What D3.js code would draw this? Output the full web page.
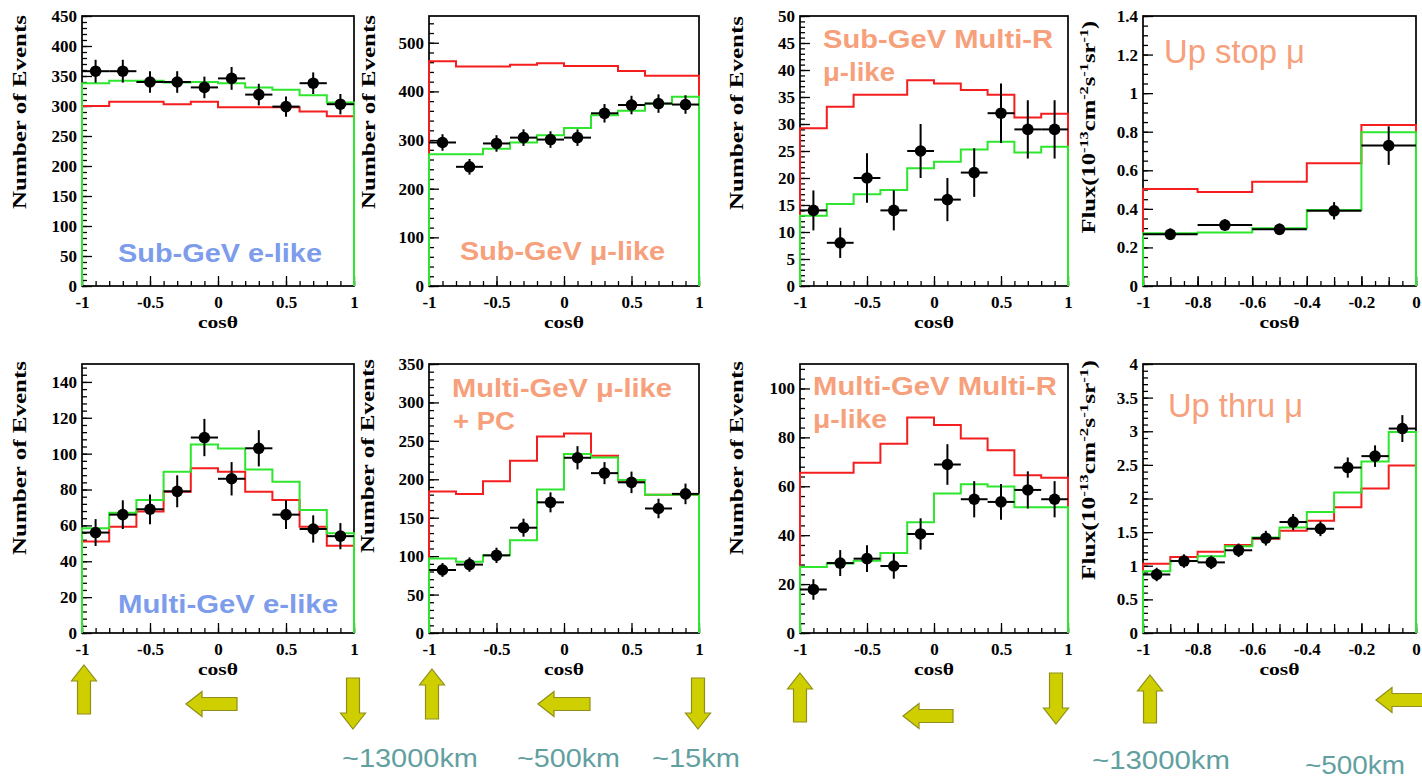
<!DOCTYPE html>
<html><head><meta charset="utf-8">
<script src="https://cdn.jsdelivr.net/npm/d3@7"></script>
<style>body{margin:0;background:#fff} svg{display:block}</style>
</head><body><svg id="c" width="1422" height="780"></svg>
<script>
// ---------- DATA ----------
const binsFull   = [-1,-0.8,-0.6,-0.4,-0.2,0,0.2,0.4,0.6,0.8,1];
const binsUpStop = [-1,-0.8,-0.6,-0.4,-0.2,0];
const binsUpThru = [-1,-0.9,-0.8,-0.7,-0.6,-0.5,-0.4,-0.3,-0.2,-0.1,0];

const xTicksFull = [-1,-0.5,0,0.5,1];
const xTicksHalf = [-1,-0.8,-0.6,-0.4,-0.2,0];

// Sub-GeV e-like
const subGeVeData = [358,358,340,340,331,346,319,299,338,303];
const subGeVeErr  = [19,19,18,18,18,19,18,17,18,17];
const subGeVeOsc  = [338,342,342,339,340,338,331,327,318,306];
const subGeVeNull = [300,307,307,303,307,298,298,298,291,283];
const yTicksSubGeVe = [0,50,100,150,200,250,300,350,400,450];

// Sub-GeV mu-like
const subGeVmuData = [295,245,293,305,301,305,355,372,375,373];
const subGeVmuErr  = [17,16,17,17,17,17,19,19,19,19];
const subGeVmuOsc  = [271,271,282,295,310,325,351,360,375,389];
const subGeVmuNull = [462,451,451,455,458,452,452,442,432,432];
const yTicksSubGeVmu = [0,100,200,300,400,500];

// Sub-GeV Multi-Ring mu-like
const subMRData = [14,8,20,14,25,16,21,32,29,29];
const subMRErr  = [3.7,2.8,4.6,3.7,5,4,4.5,5.5,5.4,5.4];
const subMROsc  = [13,15.2,17,17.8,21.8,23,25.3,26.7,24.7,25.8];
const subMRNull = [29.2,33.2,35.4,35.4,38.1,37.5,36.3,35.4,31.2,31.9];
const yTicksSubMR = [0,5,10,15,20,25,30,35,40,45,50];

// Upward stopping mu
const upStopData = [0.268,0.316,0.294,0.39,0.728];
const upStopErr  = [0.03,0.03,0.03,0.045,0.1];
const upStopOsc  = [0.273,0.278,0.299,0.394,0.797];
const upStopNull = [0.503,0.487,0.541,0.636,0.835];
const yTicksUpStop = [0,0.2,0.4,0.6,0.8,1,1.2,1.4];

// Multi-GeV e-like
const mulGeVeData = [56,66,69,79,109,86,103,66,58,54];
const mulGeVeErr  = [7.5,8,8.3,8.9,10.4,9.3,10.1,8,7.6,7.3];
const mulGeVeOsc  = [58.4,67.1,74.2,89.9,105.1,102.9,91.2,84.4,68.6,55.6];
const mulGeVeNull = [51,59.3,67.7,78.8,91.8,89.9,78.8,74.2,59.3,48.6];
const yTicksMulGeVe = [0,20,40,60,80,100,120,140];

// Multi-GeV mu-like + PC
const mulGeVmuData = [82,89,101,137,170,228,208,196,162,181];
const mulGeVmuErr  = [9,9.4,10,11.7,13,15.1,14.4,14,12.7,13.4];
const mulGeVmuOsc  = [97,92.7,101.3,120.7,186.6,232.8,228.4,199,180,180];
const mulGeVmuNull = [184,181,197.4,224,255.6,259.5,230.6,198,180,180];
const yTicksMulGeVmu = [0,50,100,150,200,250,300,350];

// Multi-GeV Multi-Ring mu-like
const mulMRData = [17.8,28.6,30.4,27.4,40.5,68.9,54.7,53.6,58.5,54.7];
const mulMRErr  = [4.2,5.3,5.5,5.2,6.4,8.3,7.4,7.3,7.6,7.4];
const mulMROsc  = [27,28.4,29.5,32.7,45.3,57,60.8,59.9,51.4,51.4];
const mulMRNull = [65.5,65.5,69.6,77.4,88.1,85.1,79.5,74.7,64.5,63.5];
const yTicksMulMR = [0,20,40,60,80,100];

// Upward through-going mu
const upThruData = [0.87,1.07,1.05,1.23,1.41,1.65,1.55,2.46,2.63,3.04];
const upThruErr  = [0.1,0.1,0.1,0.1,0.11,0.12,0.11,0.15,0.16,0.2];
const upThruOsc  = [0.92,1.07,1.14,1.29,1.42,1.57,1.80,2.09,2.55,2.99];
const upThruNull = [1.03,1.13,1.21,1.31,1.40,1.52,1.67,1.87,2.15,2.49];
const yTicksUpThru = [0,0.5,1,1.5,2,2.5,3,3.5,4];

// ---------- LAYOUT ----------
const panels = [
 {x0:82, x1:354, y0:16, y1:286, xDom:[-1,1], yMax:450, bins:binsFull, data:subGeVeData, err:subGeVeErr, osc:subGeVeOsc, nul:subGeVeNull, xt:xTicksFull, xMinor:0.1, xMid:null, yt:yTicksSubGeVe, yMinor:10, yl:'ev', ylx:26, ylc:112},
 {x0:429, x1:699, y0:16, y1:286, xDom:[-1,1], yMax:555, bins:binsFull, data:subGeVmuData, err:subGeVmuErr, osc:subGeVmuOsc, nul:subGeVmuNull, xt:xTicksFull, xMinor:0.1, xMid:null, yt:yTicksSubGeVmu, yMinor:20, yl:'ev', ylx:375, ylc:112},
 {x0:800, x1:1068, y0:16, y1:286, xDom:[-1,1], yMax:50, bins:binsFull, data:subMRData, err:subMRErr, osc:subMROsc, nul:subMRNull, xt:xTicksFull, xMinor:0.1, xMid:null, yt:yTicksSubMR, yMinor:1, yl:'ev', ylx:743, ylc:113},
 {x0:1143, x1:1416, y0:16, y1:286, xDom:[-1,0], yMax:1.4, bins:binsUpStop, data:upStopData, err:upStopErr, osc:upStopOsc, nul:upStopNull, xt:xTicksHalf, xMinor:0.05, xMid:0.1, yt:yTicksUpStop, yMinor:0.05, yl:'flux', ylx:1095, ylc:127},
 {x0:82, x1:354, y0:364, y1:633, xDom:[-1,1], yMax:150, bins:binsFull, data:mulGeVeData, err:mulGeVeErr, osc:mulGeVeOsc, nul:mulGeVeNull, xt:xTicksFull, xMinor:0.1, xMid:null, yt:yTicksMulGeVe, yMinor:4, yl:'ev', ylx:26, ylc:458},
 {x0:429, x1:699, y0:364, y1:633, xDom:[-1,1], yMax:350, bins:binsFull, data:mulGeVmuData, err:mulGeVmuErr, osc:mulGeVmuOsc, nul:mulGeVmuNull, xt:xTicksFull, xMinor:0.1, xMid:null, yt:yTicksMulGeVmu, yMinor:10, yl:'ev', ylx:374, ylc:456},
 {x0:800, x1:1068, y0:364, y1:633, xDom:[-1,1], yMax:110, bins:binsFull, data:mulMRData, err:mulMRErr, osc:mulMROsc, nul:mulMRNull, xt:xTicksFull, xMinor:0.1, xMid:null, yt:yTicksMulMR, yMinor:4, yl:'ev', ylx:743, ylc:458},
 {x0:1143, x1:1416, y0:364, y1:633, xDom:[-1,0], yMax:4, bins:binsUpThru, data:upThruData, err:upThruErr, osc:upThruOsc, nul:upThruNull, xt:xTicksHalf, xMinor:0.05, xMid:0.1, yt:yTicksUpThru, yMinor:0.1, yl:'flux', ylx:1095, ylc:470}
];

const SERIF = "'Liberation Serif','Times New Roman',serif";
const SANS  = "'Liberation Sans',Arial,sans-serif";
const RED = '#f51e1e', GREEN = '#2de62d';
const fmt = d => String(d);

const svg = d3.select('#c');
svg.append('rect').attr('width',1422).attr('height',780).attr('fill','#fff');

function stepRange(lo, hi, step){
  const n = Math.floor((hi-lo)/step + 1e-6);
  return d3.range(n+1).map(i => +(lo + i*step).toFixed(6));
}
function styleAxis(s, size){
  s.select('.domain').remove();
  s.selectAll('line').attr('stroke','#000').attr('stroke-width',1.3);
  s.selectAll('text').attr('font-family',SERIF).attr('font-weight','bold').attr('font-size',size).attr('fill','#000');
}

panels.forEach(p => {
  const x = d3.scaleLinear().domain(p.xDom).range([p.x0,p.x1]);
  const y = d3.scaleLinear().domain([0,p.yMax]).range([p.y1,p.y0]);
  const g = svg.append('g');

  g.append('rect').attr('x',p.x0).attr('y',p.y0).attr('width',p.x1-p.x0).attr('height',p.y1-p.y0)
   .attr('fill','none').attr('stroke','#000').attr('stroke-width',1.7);

  // y ticks (inward)
  g.append('g').attr('transform',`translate(${p.x0},0)`)
   .call(d3.axisLeft(y).tickValues(stepRange(0,p.yMax,p.yMinor)).tickSize(-5).tickFormat(''))
   .call(s=>styleAxis(s,16));
  g.append('g').attr('transform',`translate(${p.x0},0)`)
   .call(d3.axisLeft(y).tickValues(p.yt).tickSizeInner(-10).tickSizeOuter(0).tickPadding(5).tickFormat(fmt))
   .call(s=>styleAxis(s,17));

  // x ticks (inward)
  g.append('g').attr('transform',`translate(0,${p.y1})`)
   .call(d3.axisBottom(x).tickValues(stepRange(p.xDom[0],p.xDom[1],p.xMinor)).tickSize(-5).tickFormat(''))
   .call(s=>styleAxis(s,16));
  if (p.xMid) g.append('g').attr('transform',`translate(0,${p.y1})`)
   .call(d3.axisBottom(x).tickValues(stepRange(p.xDom[0],p.xDom[1],p.xMid)).tickSize(-9).tickFormat(''))
   .call(s=>styleAxis(s,16));
  g.append('g').attr('transform',`translate(0,${p.y1})`)
   .call(d3.axisBottom(x).tickValues(p.xt).tickSizeInner(-10).tickSizeOuter(0).tickPadding(10).tickFormat(fmt))
   .call(s=>styleAxis(s,17));

  // x title
  g.append('text').attr('x',(p.x0+p.x1)/2).attr('y',p.y1+42).attr('text-anchor','middle')
   .attr('font-family',SERIF).attr('font-weight','bold').attr('font-size',16)
   .attr('textLength',40).attr('lengthAdjust','spacingAndGlyphs').text('cosθ');

  // y title
  const yt = g.append('g').attr('transform',`translate(${p.ylx},${p.ylc}) rotate(-90)`);
  if (p.yl === 'ev') {
    yt.append('text').attr('text-anchor','middle').attr('font-family',SERIF).attr('font-weight','bold')
      .attr('font-size',18).attr('textLength',194).attr('lengthAdjust','spacingAndGlyphs').text('Number of Events');
  } else {
    const t = yt.append('text').attr('font-family',SERIF).attr('font-weight','bold').attr('font-size',18);
    const parts = [['Flux(10',0],['-13',1],['cm',0],['-2',1],['s',0],['-1',1],['sr',0],['-1',1],[')',0]];
    let prev = 0;
    parts.forEach(([s,sup]) => {
      const dy = (sup?-7:0) - prev; prev = sup?-7:0;
      t.append('tspan').attr('dy',dy).attr('font-size',sup?12:18).text(s);
    });
    const L = t.node().getComputedTextLength();
    const target = p.y1 > 400 ? 220 : 213;
    t.attr('transform',`scale(${target/L},1) translate(${-L/2},0)`);
  }

  // histograms
  const line = d3.line().x(d=>x(d[0])).y(d=>y(d[1]));
  const stepPts = vals => {
    const pts = [[p.bins[0],0]];
    vals.forEach((v,i)=>{ pts.push([p.bins[i],v]); pts.push([p.bins[i+1],v]); });
    pts.push([p.bins[p.bins.length-1],0]);
    return pts;
  };
  g.append('path').attr('d',line(stepPts(p.nul))).attr('fill','none').attr('stroke',RED).attr('stroke-width',2);
  g.append('path').attr('d',line(stepPts(p.osc))).attr('fill','none').attr('stroke',GREEN).attr('stroke-width',2);

  // data points
  const pts = g.append('g');
  p.data.forEach((v,i)=>{
    const c = (p.bins[i]+p.bins[i+1])/2;
    pts.append('line').attr('x1',x(p.bins[i])).attr('x2',x(p.bins[i+1])).attr('y1',y(v)).attr('y2',y(v))
       .attr('stroke','#000').attr('stroke-width',2);
    pts.append('line').attr('x1',x(c)).attr('x2',x(c)).attr('y1',y(v-p.err[i])).attr('y2',y(v+p.err[i]))
       .attr('stroke','#000').attr('stroke-width',2);
    pts.append('circle').attr('cx',x(c)).attr('cy',y(v)).attr('r',5.8).attr('fill','#000');
  });
});

// ---------- panel labels ----------
const BLUE = '#7d9cec', SALMON = '#f7a07c', TEAL = '#62a0a0';
function label(txt, x, y, size, len, color, weight){
  svg.append('text').attr('x',x).attr('y',y).attr('font-family',SANS).attr('font-size',size)
    .attr('font-weight',weight).attr('fill',color).attr('textLength',len).attr('lengthAdjust','spacingAndGlyphs').text(txt);
}
label('Sub-GeV e-like', 118, 262, 26, 204, BLUE, 'bold');
label('Sub-GeV μ-like', 460, 260, 26, 205, SALMON, 'bold');
label('Sub-GeV Multi-R', 823, 48, 26, 230, SALMON, 'bold');
label('μ-like', 823, 81, 26, 72, SALMON, 'bold');
label('Up stop μ', 1164, 63, 34, 141, SALMON, 'normal');
label('Multi-GeV e-like', 118, 613, 26, 220, BLUE, 'bold');
label('Multi-GeV μ-like', 452, 397, 26, 220, SALMON, 'bold');
label('+ PC', 453, 430, 26, 62, SALMON, 'bold');
label('Multi-GeV Multi-R', 813, 395, 26, 244, SALMON, 'bold');
label('μ-like', 813, 428, 26, 74, SALMON, 'bold');
label('Up thru μ', 1168, 417, 33, 135, SALMON, 'normal');

// ---------- arrows ----------
const arrows = [
 {t:'up', c:84, a:665, b:714}, {t:'left', c:704, a:186, b:237}, {t:'down', c:353, a:678, b:729},
 {t:'up', c:432, a:669, b:719}, {t:'left', c:704, a:538, b:590}, {t:'down', c:698, a:678, b:729},
 {t:'up', c:800, a:673, b:722}, {t:'left', c:716, a:903, b:953}, {t:'down', c:1056, a:673, b:724},
 {t:'up', c:1150, a:675, b:723}, {t:'left', c:700, a:1376, b:1432}
];
function arrowPath(o){
  const H=16, W=12.5, S=6.5;
  let pts;
  if (o.t==='up') pts=[[o.c,o.a],[o.c+W,o.a+H],[o.c+S,o.a+H],[o.c+S,o.b],[o.c-S,o.b],[o.c-S,o.a+H],[o.c-W,o.a+H]];
  else if (o.t==='down') pts=[[o.c,o.b],[o.c+W,o.b-H],[o.c+S,o.b-H],[o.c+S,o.a],[o.c-S,o.a],[o.c-S,o.b-H],[o.c-W,o.b-H]];
  else pts=[[o.a,o.c],[o.a+H,o.c-W],[o.a+H,o.c-S],[o.b,o.c-S],[o.b,o.c+S],[o.a+H,o.c+S],[o.a+H,o.c+W]];
  return 'M'+pts.map(p=>p.join(',')).join('L')+'Z';
}
svg.append('g').selectAll('path').data(arrows).join('path').attr('d',arrowPath)
  .attr('fill','#cfcf00').attr('stroke','#8f8f1a').attr('stroke-width',1.2).attr('stroke-linejoin','miter');

// ---------- distance labels ----------
function dist(txt,x,y,len){
  svg.append('text').attr('x',x).attr('y',y).attr('font-family',SANS).attr('font-size',26)
    .attr('fill',TEAL).attr('textLength',len).attr('lengthAdjust','spacingAndGlyphs').text(txt);
}
dist('~13000km', 342, 767, 136);
dist('~500km', 517, 767, 103);
dist('~15km', 652, 767, 88);
dist('~13000km', 1092, 769, 138);
dist('~500km', 1305, 774, 100);
</script></body></html>
